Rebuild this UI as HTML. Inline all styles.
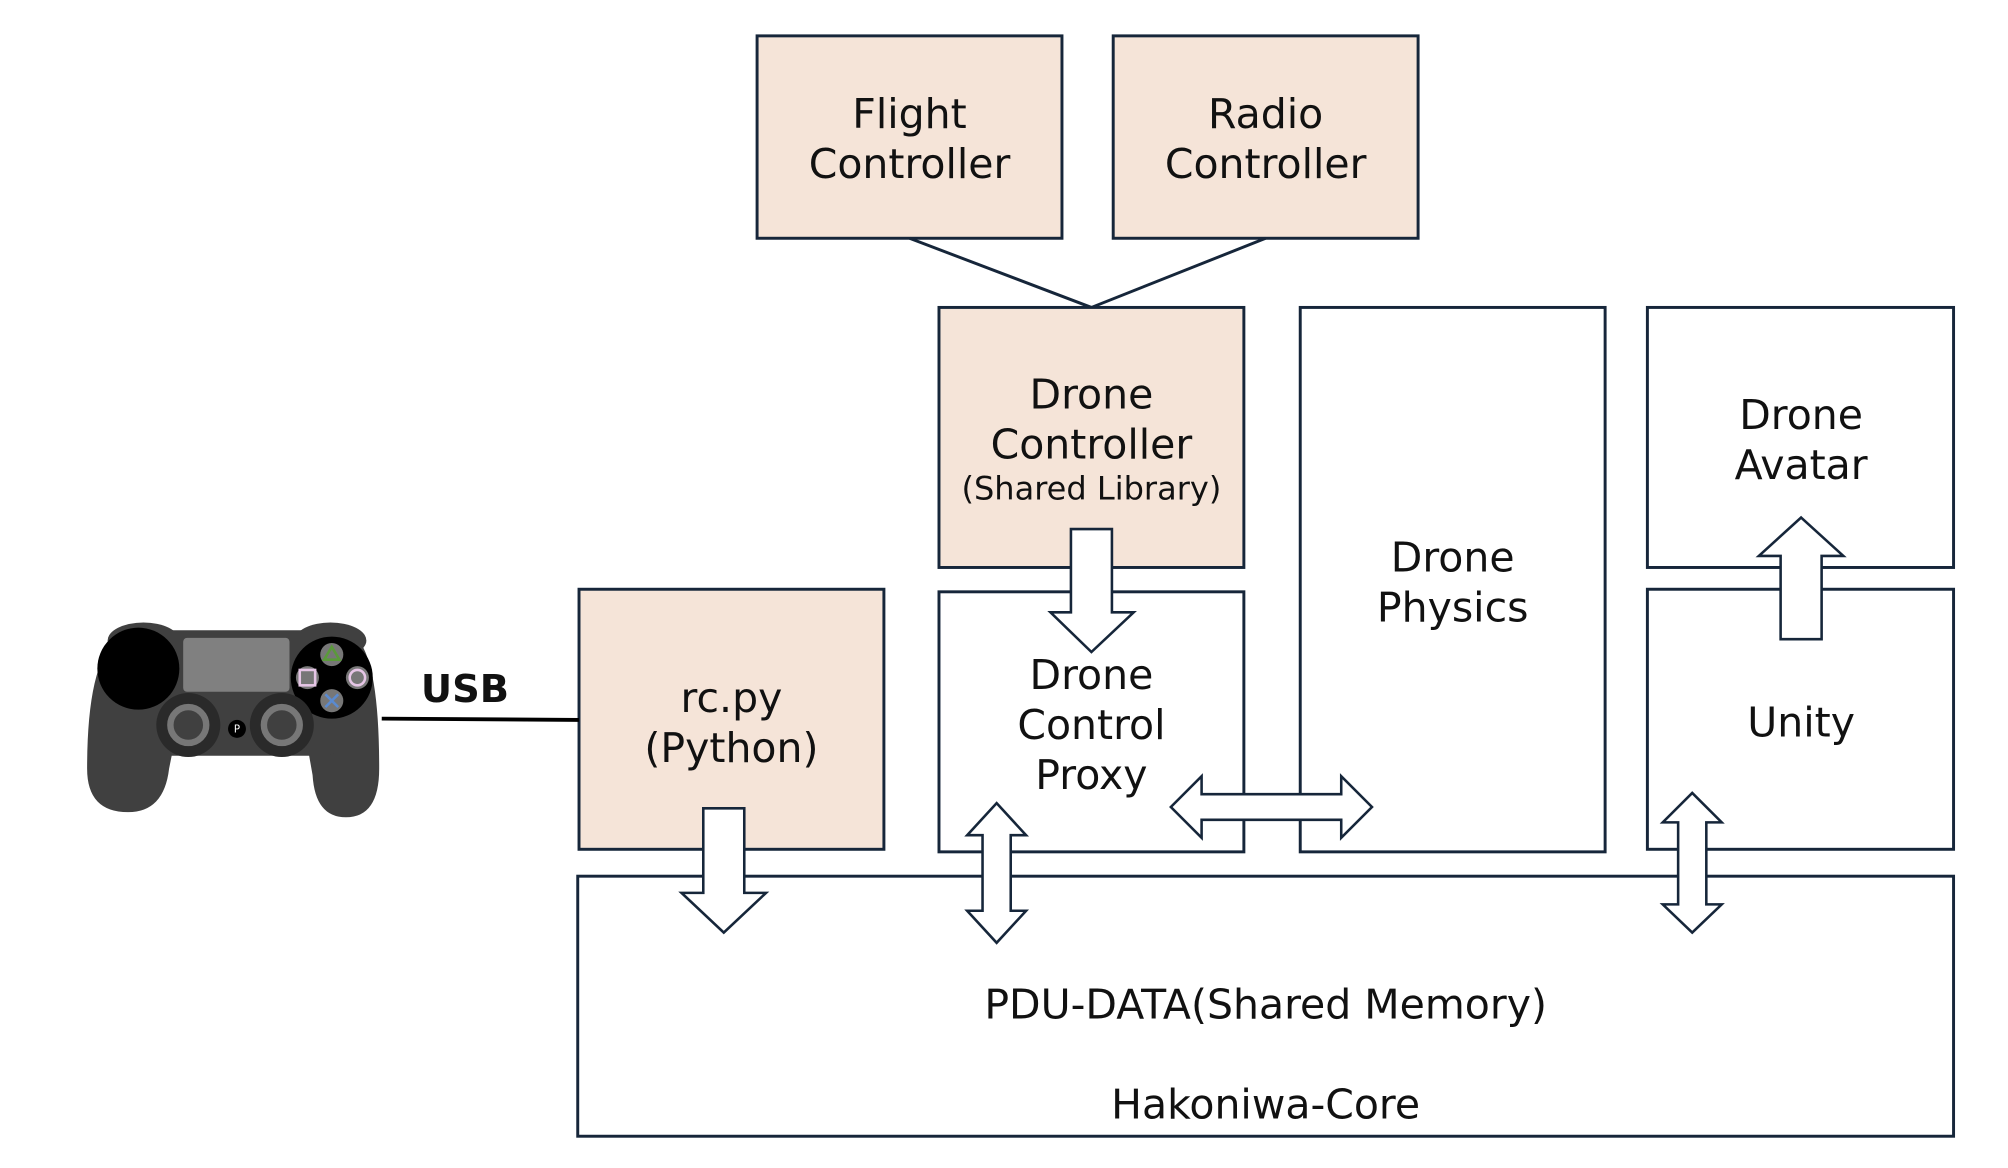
<!DOCTYPE html>
<html><head><meta charset="utf-8"><style>
html,body{margin:0;padding:0;background:#fff;}
svg{display:block;}
text{font-family:"DejaVu Sans","Liberation Sans",sans-serif;fill:#111;}
</style></head><body>
<svg width="2008" height="1168" viewBox="0 0 1567.5 911.8" preserveAspectRatio="none" xmlns="http://www.w3.org/2000/svg">
<g stroke="#16263a" stroke-width="2.3">
<rect x="591" y="28" width="238" height="158" fill="#f5e4d8"/>
<rect x="869" y="28" width="238" height="158" fill="#f5e4d8"/>
<line x1="710" y1="186" x2="852" y2="240"/>
<line x1="988" y1="186" x2="852" y2="240"/>
<rect x="733" y="240" width="238" height="203" fill="#f5e4d8"/>
<rect x="1015" y="240" width="238" height="425" fill="#fff"/>
<rect x="1286" y="240" width="239" height="203" fill="#fff"/>
<rect x="452" y="460" width="238" height="203" fill="#f5e4d8"/>
<rect x="733" y="462" width="238" height="203" fill="#fff"/>
<rect x="1286" y="460" width="239" height="203" fill="#fff"/>
<rect x="451" y="684" width="1074" height="203" fill="#fff"/>
</g>
<g stroke="#16263a" stroke-width="2" fill="#fff">
<polygon points="836,413 868,413 868,478 885,478 852,509 820,478 836,478"/>
<polygon points="1406,404 1439,434 1422,434 1422,499 1390,499 1390,434 1373,434"/>
<polygon points="549,631 581,631 581,697 598,697 565,728 532,697 549,697"/>
<polygon points="778,627 801,652 789,652 789,711 801,711 778,736 755,711 767,711 767,652 755,652"/>
<polygon points="914,630 938,606 938,620 1047,620 1047,606 1071,630 1047,654 1047,640 938,640 938,654"/>
<polygon points="1321,619 1344,642 1332,642 1332,706 1344,706 1321,728 1298,706 1310,706 1310,642 1298,642"/>
</g>
<g font-size="32" text-anchor="middle">
<text x="710" y="100">Flight</text><text x="710" y="139">Controller</text>
<text x="988" y="100">Radio</text><text x="988" y="139">Controller</text>
<text x="852" y="319">Drone</text><text x="852" y="358">Controller</text>
<text x="852" y="390" font-size="25">(Shared Library)</text>
<text x="1134" y="446">Drone</text><text x="1134" y="485">Physics</text>
<text x="1406" y="335">Drone</text><text x="1406" y="374">Avatar</text>
<text x="571" y="556">rc.py</text><text x="571" y="595">(Python)</text>
<text x="852" y="538">Drone</text><text x="852" y="577">Control</text><text x="852" y="616">Proxy</text>
<text x="1406" y="575">Unity</text>
<text x="988" y="795">PDU-DATA(Shared Memory)</text>
<text x="988" y="873">Hakoniwa-Core</text>
</g>
<text x="363" y="548" font-size="30" font-weight="bold" text-anchor="middle">USB</text>
<line x1="298" y1="561" x2="452" y2="562" stroke="#000" stroke-width="3"/>
<g>
<path d="M90,500 Q68,520 68,600 Q68,634 100,634 Q128,634 132,600 L140,560 L100,500 Z" fill="#404040"/>
<path d="M280,500 Q296,520 296,600 Q296,638 270,638 Q246,638 244,605 L236,560 L270,500 Z" fill="#404040"/>
<rect x="100" y="492" width="172" height="98" rx="20" fill="#404040"/>
<ellipse cx="112" cy="500" rx="28" ry="14" fill="#404040"/>
<ellipse cx="258" cy="500" rx="28" ry="14" fill="#404040"/>
<circle cx="108" cy="522" r="32" fill="#000"/>
<rect x="143" y="498" width="83" height="42" rx="3" fill="#808080"/>
<circle cx="259" cy="529" r="32" fill="#000"/>
<circle cx="259" cy="511" r="9" fill="#777"/>
<polygon points="259,505 265,515 253,515" fill="none" stroke="#5a9a3a" stroke-width="2"/>
<circle cx="240" cy="529" r="9" fill="#777"/>
<rect x="234" y="523" width="12" height="12" fill="none" stroke="#e6c6e6" stroke-width="2"/>
<circle cx="279" cy="529" r="9" fill="#777"/>
<circle cx="279" cy="529" r="6" fill="none" stroke="#e6c6e6" stroke-width="2"/>
<circle cx="259" cy="547" r="9" fill="#777"/>
<path d="M254,542 L264,552 M264,542 L254,552" stroke="#5a8ad0" stroke-width="2"/>
<circle cx="147" cy="566" r="25" fill="#2a2a2a"/>
<circle cx="147" cy="566" r="14" fill="#404040" stroke="#777" stroke-width="5"/>
<circle cx="220" cy="566" r="25" fill="#2a2a2a"/>
<circle cx="220" cy="566" r="14" fill="#404040" stroke="#777" stroke-width="5"/>
<circle cx="185" cy="569" r="7" fill="#000"/>
<text x="185" y="572" font-size="8" text-anchor="middle" style="fill:#fff">P</text>
</g>
</svg>
</body></html>
